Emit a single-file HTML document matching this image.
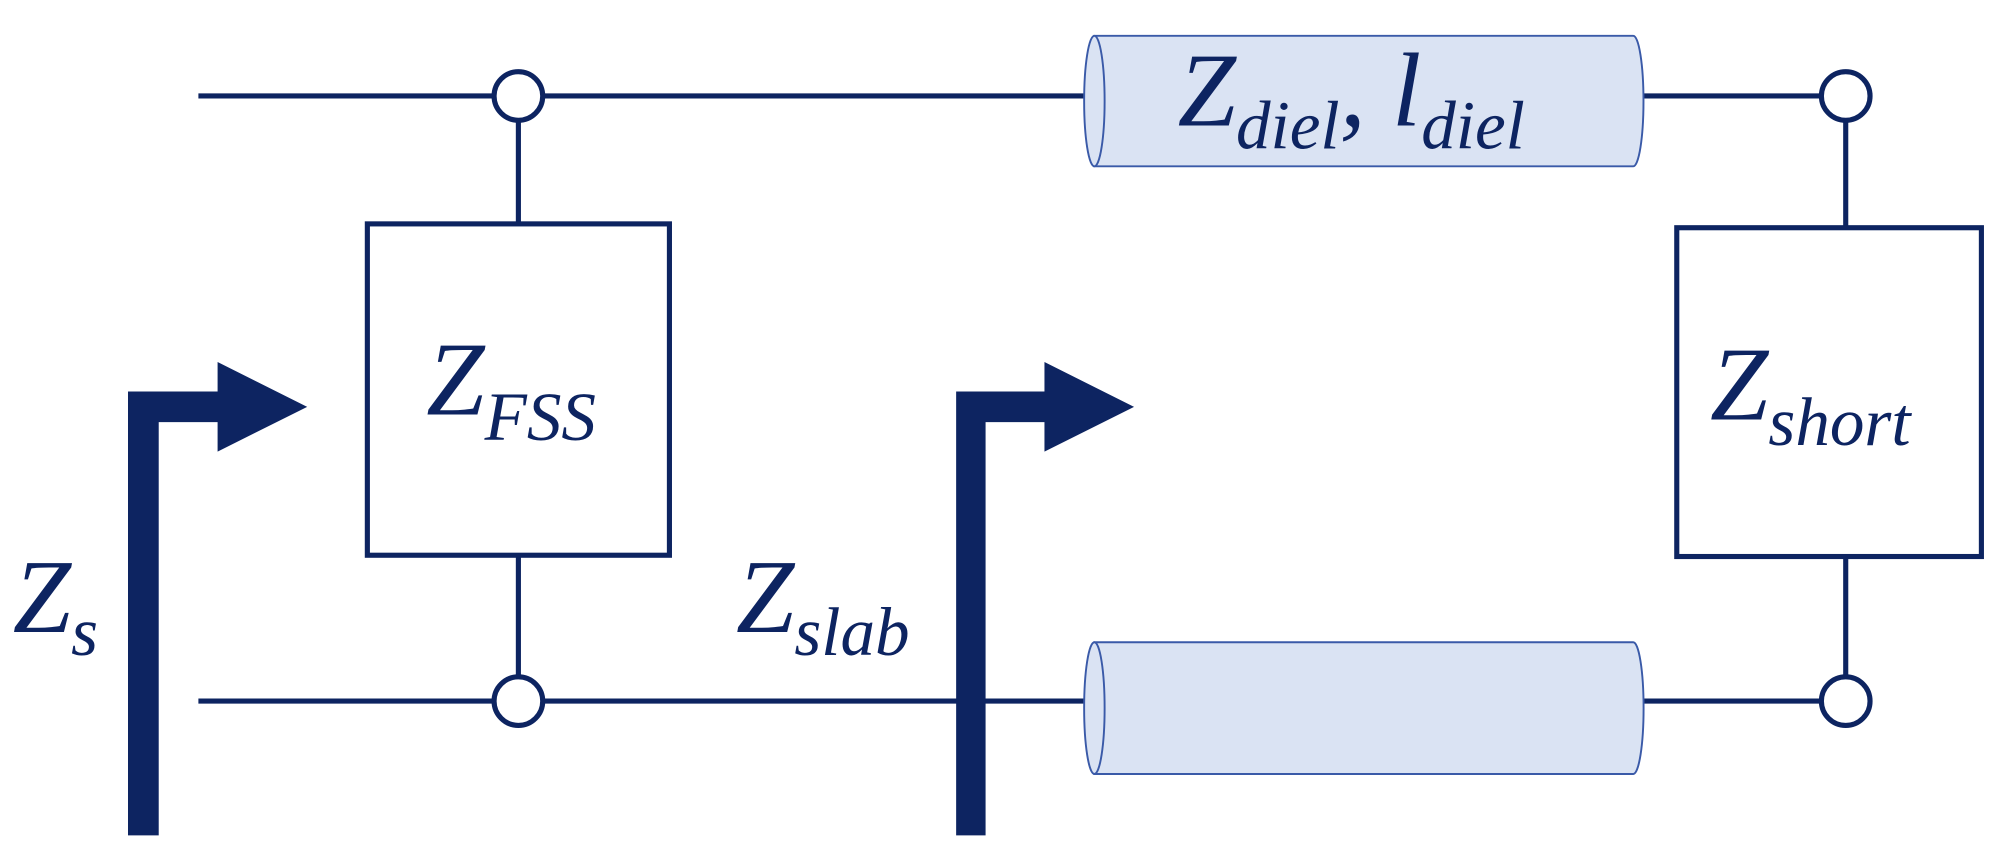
<!DOCTYPE html>
<html><head><meta charset="utf-8"><style>
html,body{margin:0;padding:0;background:#fff;}
svg{display:block;}
text{font-family:"Liberation Serif",serif;font-style:italic;fill:#0d2461;}
</style></head><body>
<svg width="2007" height="861" viewBox="0 0 1568 673" preserveAspectRatio="none" xmlns="http://www.w3.org/2000/svg">
<g stroke="#0d2461" stroke-width="4" fill="none">
<line x1="155" y1="75" x2="850" y2="75"/>
<line x1="1282" y1="75" x2="1442" y2="75"/>
<line x1="155" y1="548" x2="850" y2="548"/>
<line x1="1282" y1="548" x2="1442" y2="548"/>
<line x1="405" y1="75" x2="405" y2="175"/>
<line x1="405" y1="434" x2="405" y2="548"/>
<line x1="1442" y1="75" x2="1442" y2="178"/>
<line x1="1442" y1="435" x2="1442" y2="548"/>
<rect x="287" y="175" width="236" height="259" fill="#fff"/>
<rect x="1310" y="178" width="238" height="257" fill="#fff"/>
</g>
<g stroke="#3a5aa8" stroke-width="1.5" fill="#dae3f3">
<path d="M855,28 L1276,28 A8,51 0 0 1 1276,130 L855,130 Z"/>
<ellipse cx="855" cy="79" rx="8" ry="51"/>
<path d="M855,502 L1276,502 A8,51 0 0 1 1276,605 L855,605 Z"/>
<ellipse cx="855" cy="553.5" rx="8" ry="51.5"/>
</g>
<g stroke="#0d2461" stroke-width="4" fill="#fff">
<circle cx="405" cy="75" r="19"/>
<circle cx="1442" cy="75" r="19"/>
<circle cx="405" cy="548" r="19"/>
<circle cx="1442" cy="548" r="19"/>
</g>
<g fill="#0d2461">
<path d="M100,653 L100,306 L170,306 L170,283 L240,318 L170,353 L170,330 L124,330 L124,653 Z"/>
<path d="M747,653 L747,306 L816,306 L816,283 L886,318 L816,353 L816,330 L770,330 L770,653 Z"/>
</g>
<text x="333" y="324" font-size="82">Z<tspan font-size="54" dy="20">FSS</tspan></text>
<text x="1336" y="328" font-size="82">Z<tspan font-size="54" dy="20">short</tspan></text>
<text x="920" y="98" font-size="82">Z<tspan font-size="54" dy="18">diel</tspan><tspan dy="-18">, l</tspan><tspan font-size="54" dy="18">diel</tspan></text>
<text x="10" y="494" font-size="82">Z<tspan font-size="54" dy="18">s</tspan></text>
<text x="575" y="494" font-size="82">Z<tspan font-size="54" dy="18">slab</tspan></text>
</svg>
</body></html>
